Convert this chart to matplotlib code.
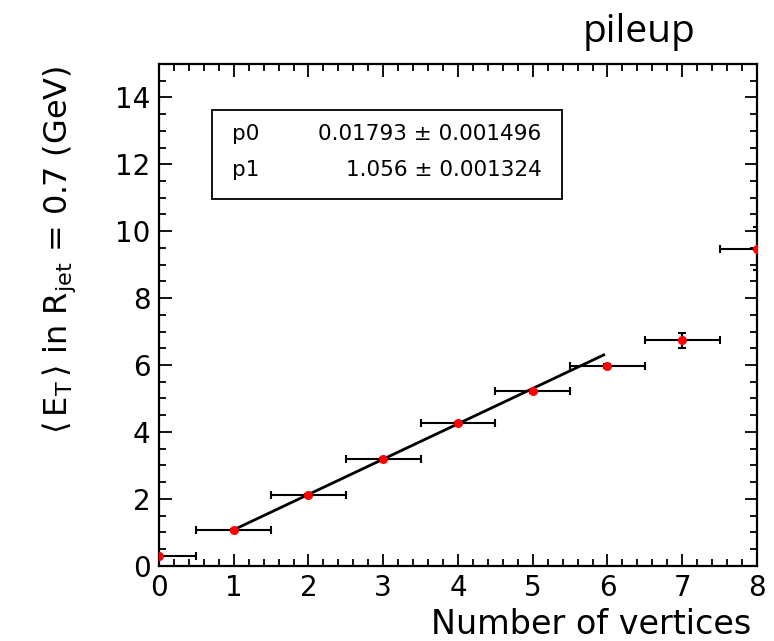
import matplotlib
matplotlib.use("Agg")
import matplotlib.pyplot as plt
from matplotlib.patches import Rectangle
from matplotlib.ticker import MultipleLocator

plt.rcParams['font.family'] = ['DejaVu Sans']
plt.rcParams['mathtext.fontset'] = 'dejavusans'

# data
n_vertices = [0, 1, 2, 3, 4, 5, 6, 7, 8]
mean_et = [0.29, 1.07, 2.11, 3.18, 4.27, 5.21, 5.97, 6.74, 9.48]
et_err = [0.03, 0.03, 0.03, 0.04, 0.04, 0.05, 0.06, 0.23, 0.65]
bin_half = [0.5] * len(n_vertices)

# linear fit p0 + p1*x
p0, p0_err = 0.01793, 0.001496
p1, p1_err = 1.056, 0.001324
fit_range = [1.0, 5.95]

fig = plt.figure(figsize=(7.74, 6.41), dpi=100)
ax = fig.add_axes([0.2054, 0.1175, 0.7726, 0.7827])

ax.errorbar(n_vertices, mean_et, xerr=bin_half, yerr=et_err, fmt='o',
            color='red', ms=5.5, mec='red', ecolor='black', elinewidth=1.5,
            capsize=3, capthick=1.5, zorder=3)

fx = fit_range
fy = [p0 + p1 * x for x in fx]
ax.plot(fx, fy, color='black', lw=2, zorder=2)

ax.set_xlim(0, 8)
ax.set_ylim(0, 15)
ax.xaxis.set_major_locator(MultipleLocator(1))
ax.xaxis.set_minor_locator(MultipleLocator(0.2))
ax.yaxis.set_major_locator(MultipleLocator(2))
ax.yaxis.set_minor_locator(MultipleLocator(0.5))
ax.tick_params(which='both', direction='in', top=True, right=True, width=1.3)
ax.tick_params(which='major', length=9, labelsize=20, pad=6)
ax.tick_params(which='minor', length=5)
for s in ax.spines.values():
    s.set_linewidth(1.6)

ax.set_xlabel('Number of vertices', fontsize=24, ha='right')
ax.xaxis.set_label_coords(0.99, -0.085)
ax.set_ylabel(r'$\langle\,\mathrm{E_T}\,\rangle$ in R$_{\mathrm{jet}}$ = 0.7 (GeV)',
              fontsize=23)
ax.yaxis.set_label_coords(-0.135, 0.629)

# fit result box
ax.add_patch(Rectangle((0.71, 10.96), 4.68, 2.66, fill=False, ec='black',
                       lw=1.3, zorder=4))
rows = [('p0', f'{p0:.5f} ± {p0_err:.6f}', 12.91),
        ('p1', f'{p1:.3f} ± {p1_err:.6f}', 11.83)]
for name, val, yy in rows:
    ax.text(0.98, yy, name, fontsize=15.5, va='center', ha='left')
    ax.text(5.12, yy, val, fontsize=15.5, va='center', ha='right')

fig.text(0.826, 0.95, 'pileup', fontsize=28, family='Open Sans',
         ha='center', va='center')

fig.savefig('out.png', dpi=100)
